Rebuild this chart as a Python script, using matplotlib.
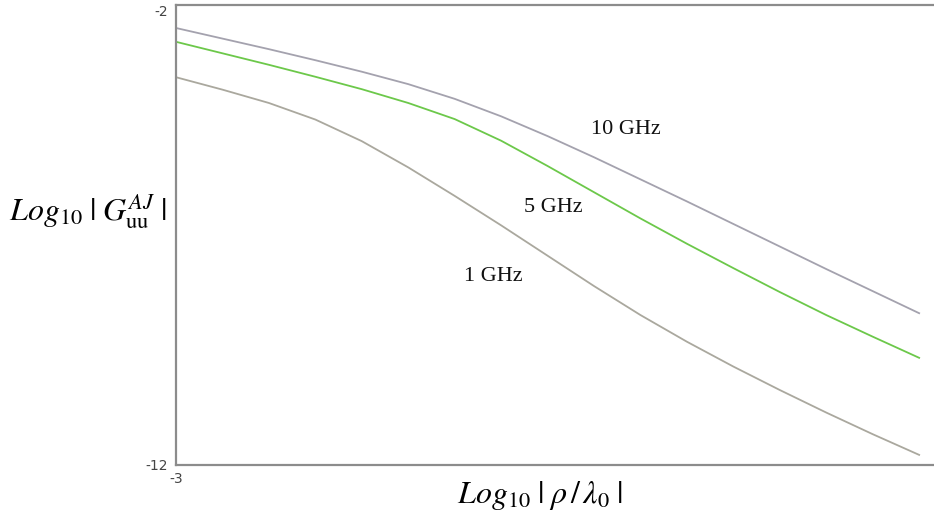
import numpy as np
import matplotlib.pyplot as plt

# x = Log10 |rho / lambda0|
x = [-3.0, -2.75, -2.5, -2.25, -2.0, -1.75, -1.5, -1.25, -1.0,
     -0.75, -0.5, -0.25, 0.0, 0.25, 0.5, 0.75, 1.0]

# Log10 |G_uu^AJ| for each frequency
g_10ghz = [-2.50, -2.73, -2.96, -3.20, -3.45, -3.72, -4.04, -4.42, -4.85,
           -5.31, -5.79, -6.27, -6.76, -7.25, -7.74, -8.22, -8.70]
g_5ghz = [-2.80, -3.05, -3.30, -3.56, -3.83, -4.13, -4.48, -4.95, -5.50,
          -6.07, -6.64, -7.19, -7.72, -8.24, -8.74, -9.21, -9.67]
g_1ghz = [-3.57, -3.84, -4.13, -4.49, -4.96, -5.53, -6.15, -6.79, -7.45,
          -8.11, -8.74, -9.32, -9.86, -10.37, -10.86, -11.33, -11.78]

labels = ['10 GHz', '5 GHz', '1 GHz']
label_pos = [(-0.58, -4.70), (-0.97, -6.41), (-1.29, -7.91)]

plt.rcParams['mathtext.fontset'] = 'stix'

fig = plt.figure(figsize=(9.34, 5.25), dpi=100)
ax = fig.add_axes([176/934, 60/525, 758/934, 460/525])

ax.plot(x, g_10ghz, color='#a4a2ae', lw=1.3)
ax.plot(x, g_5ghz, color='#6cc84a', lw=1.3)
ax.plot(x, g_1ghz, color='#aaa89e', lw=1.3)

for lab, (lx, ly) in zip(labels, label_pos):
    ax.text(lx, ly, lab, ha='center', va='center', fontsize=16,
            family='Liberation Serif', color='#111111')

ax.set_xlim(-3, 1.08)
ax.set_ylim(-12, -2)
ax.set_xticks([-3])
ax.set_xticklabels(['-3'])
ax.set_yticks([-12, -2])
ax.set_yticklabels(['-12', '-2'])
ax.tick_params(length=0, labelsize=10, colors='#444444', pad=6)
ax.tick_params(axis='x', pad=5)
ax.get_yticklabels()[1].set_va('top')

for s in ['left', 'top', 'bottom']:
    ax.spines[s].set_color('#8c8c8c')
    ax.spines[s].set_linewidth(1.6)
ax.spines['right'].set_visible(False)

fig.text(88/934, 1 - 212/525, r'$Log_{10}\;|\;G_{\mathrm{uu}}^{AJ}\;|$',
         ha='center', va='center', fontsize=23)
fig.text(540/934, 1 - 496/525, r'$Log_{10}\;|\;\rho\,/\,\lambda_0\;|$',
         ha='center', va='center', fontsize=23)

plt.savefig('out.png', dpi=100)
